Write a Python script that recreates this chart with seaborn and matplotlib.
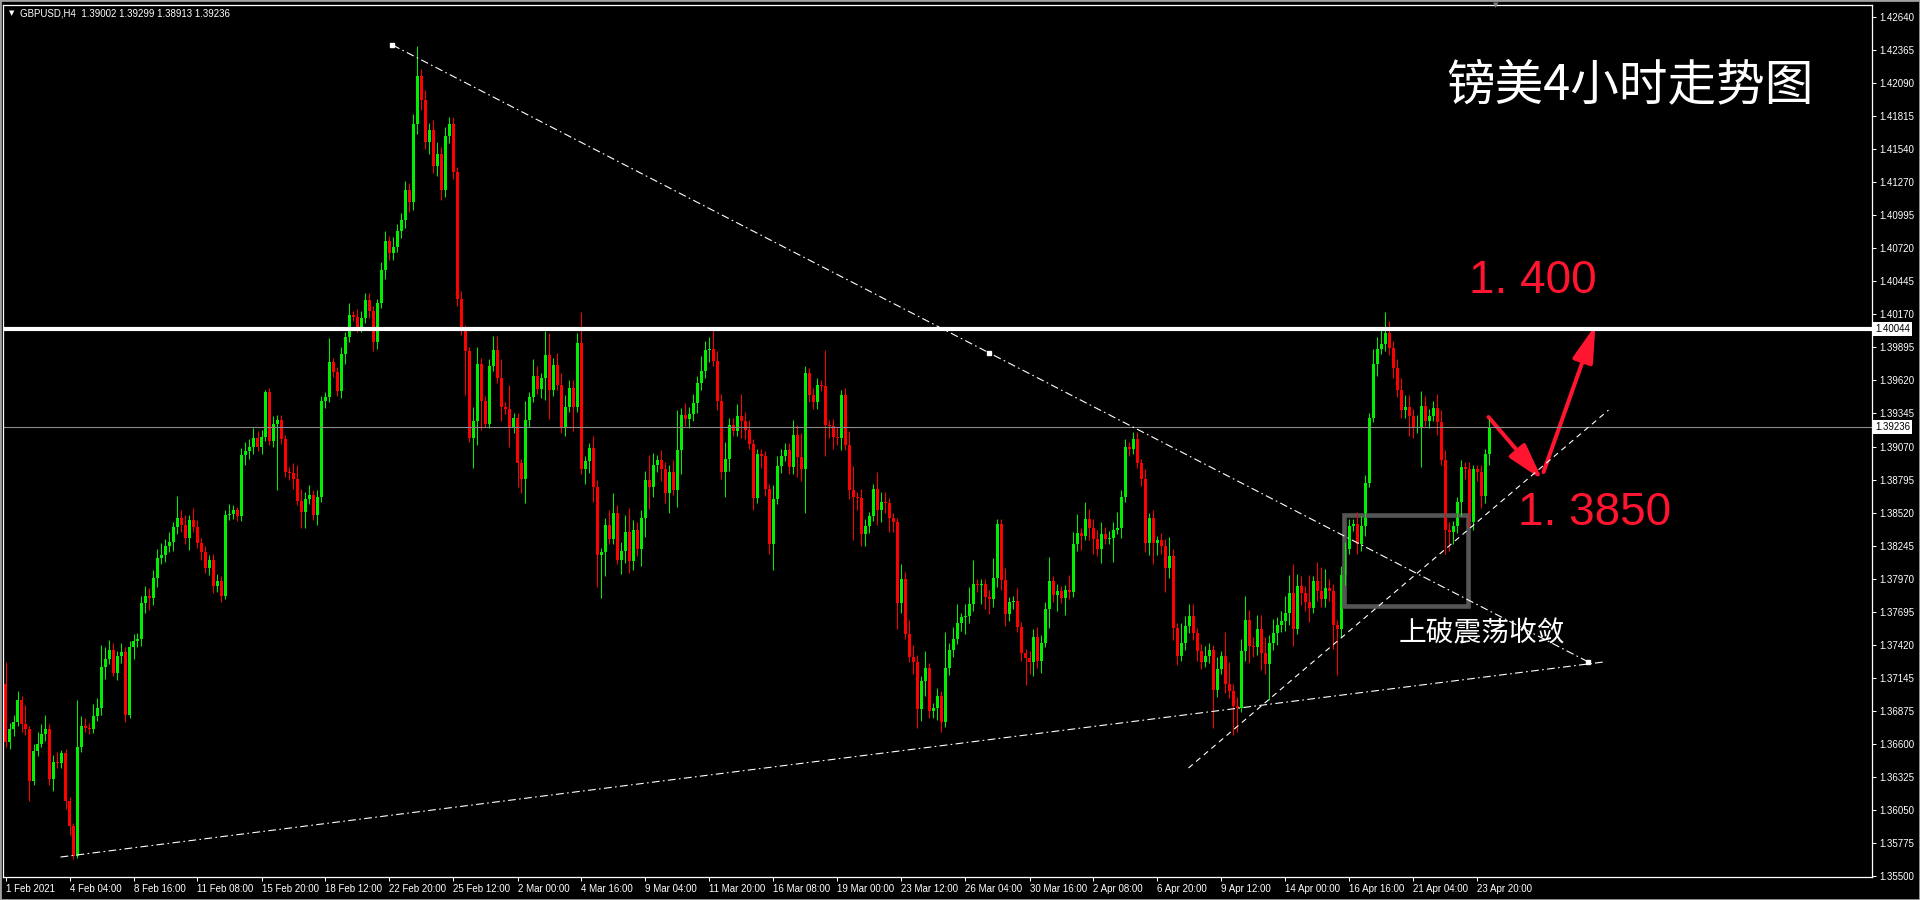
import matplotlib
matplotlib.use("Agg")
import matplotlib.pyplot as plt
from matplotlib.patches import Rectangle, FancyArrowPatch
import numpy as np
import pandas as pd
import seaborn as sns

# ---- data (GBPUSD H4, 1 Feb - 23 Apr 2021) ----
first_open = 1.3710
closes = [
    1.3661, 1.3672, 1.3678, 1.3696, 1.3676, 1.3672, 1.3629, 1.3654, 1.3660, 1.3668,
    1.3672, 1.3631, 1.3645, 1.3644, 1.3652, 1.3612, 1.3592, 1.3567, 1.3657, 1.3675,
    1.3673, 1.3672, 1.3683, 1.3690, 1.3724, 1.3730, 1.3738, 1.3719, 1.3733, 1.3736,
    1.3684, 1.3740, 1.3745, 1.3747, 1.3777, 1.3783, 1.3781, 1.3798, 1.3814, 1.3817,
    1.3824, 1.3828, 1.3840, 1.3848, 1.3842, 1.3831, 1.3846, 1.3840, 1.3827, 1.3819,
    1.3806, 1.3813, 1.3791, 1.3795, 1.3783, 1.3850, 1.3851, 1.3854, 1.3849, 1.3900,
    1.3903, 1.3907, 1.3914, 1.3907, 1.3915, 1.3952, 1.3912, 1.3926, 1.3929, 1.3913,
    1.3886, 1.3885, 1.3880, 1.3862, 1.3853, 1.3863, 1.3867, 1.3850, 1.3865, 1.3945,
    1.3948, 1.3977, 1.3969, 1.3953, 1.3984, 1.3998, 1.4016, 1.4015, 1.4006, 1.4014,
    1.4029, 1.4020, 1.3994, 1.4026, 1.4054, 1.4078, 1.4068, 1.4073, 1.4086, 1.4095,
    1.4120, 1.4110, 1.4175, 1.4215, 1.4195, 1.4160, 1.4170, 1.4140, 1.4150, 1.4120,
    1.4165, 1.4175, 1.4135, 1.4030, 1.4004, 1.3986, 1.3914, 1.3928, 1.3976, 1.3945,
    1.3926, 1.3974, 1.3987, 1.3964, 1.3940, 1.3938, 1.3922, 1.3931, 1.3893, 1.3880,
    1.3929, 1.3948, 1.3966, 1.3955, 1.3964, 1.3983, 1.3954, 1.3975, 1.3958, 1.3922,
    1.3940, 1.3956, 1.3940, 1.3993, 1.3888, 1.3895, 1.3906, 1.3873, 1.3817, 1.3819,
    1.3842, 1.3830, 1.3852, 1.3813, 1.3820, 1.3836, 1.3812, 1.3838, 1.3822, 1.3848,
    1.3879, 1.3873, 1.3892, 1.3896, 1.3888, 1.3868, 1.3886, 1.3871, 1.3904, 1.3933,
    1.3930, 1.3934, 1.3943, 1.3960, 1.3970, 1.3987, 1.3988, 1.3978, 1.3945, 1.3886,
    1.3897, 1.3925, 1.3920, 1.3932, 1.3928, 1.3921, 1.3909, 1.3864, 1.3901, 1.3899,
    1.3872, 1.3826, 1.3863, 1.3891, 1.3899, 1.3904, 1.3890, 1.3917, 1.3898, 1.3888,
    1.3968, 1.3950, 1.3944, 1.3958, 1.3957, 1.3925, 1.3924, 1.3915, 1.3914, 1.3950,
    1.3908, 1.3871, 1.3865, 1.3864, 1.3834, 1.3841, 1.3849, 1.3872, 1.3854, 1.3861,
    1.3860, 1.3848, 1.3844, 1.3777, 1.3797, 1.3751, 1.3732, 1.3728, 1.3689, 1.3712,
    1.3723, 1.3687, 1.3690, 1.3700, 1.3678, 1.3723, 1.3738, 1.3747, 1.3760, 1.3765,
    1.3766, 1.3776, 1.3793, 1.3792, 1.3793, 1.3782, 1.3780, 1.3798, 1.3843, 1.3796,
    1.3768, 1.3778, 1.3779, 1.3757, 1.3735, 1.3731, 1.3728, 1.3749, 1.3729, 1.3744,
    1.3772, 1.3795, 1.3784, 1.3787, 1.3781, 1.3788, 1.3786, 1.3826, 1.3835, 1.3833,
    1.3847, 1.3839, 1.3830, 1.3822, 1.3834, 1.3830, 1.3831, 1.3838, 1.3839, 1.3865,
    1.3907, 1.3905, 1.3913, 1.3893, 1.3880, 1.3827, 1.3848, 1.3827, 1.3829, 1.3824,
    1.3806, 1.3816, 1.3756, 1.3733, 1.3744, 1.3758, 1.3766, 1.3752, 1.3737, 1.3728,
    1.3733, 1.3738, 1.3705, 1.3722, 1.3733, 1.3710, 1.3704, 1.3691, 1.3690, 1.3737,
    1.3763, 1.3741, 1.3740, 1.3755, 1.3735, 1.3726, 1.3744, 1.3752, 1.3759, 1.3762,
    1.3769, 1.3785, 1.3755, 1.3791, 1.3785, 1.3778, 1.3773, 1.3795, 1.3787, 1.3780,
    1.3789, 1.3787, 1.3759, 1.3755, 1.3800, 1.3822, 1.3841, 1.3843, 1.3826, 1.3841,
    1.3877, 1.3931, 1.3976, 1.3988, 1.3992, 1.4001, 1.3989, 1.3972, 1.3954, 1.3937,
    1.3940, 1.3932, 1.3922, 1.3923, 1.3941, 1.3928, 1.3932, 1.3939, 1.3927, 1.3896,
    1.3838, 1.3836, 1.3841, 1.3861, 1.3890, 1.3888, 1.3844, 1.3888, 1.3886, 1.3866,
    1.3901, 1.39236,
]
# wick lengths in pips above / below the candle body
upper_wick = [
    18, 5, 6, 8, 4, 16, 3, 6, 10, 8, 12, 4, 6, 8, 3, 4, 4, 2, 39, 8,
    6, 4, 10, 8, 18, 10, 8, 6, 4, 8, 4, 5, 6, 5, 6, 8, 6, 6, 8, 10,
    6, 8, 4, 18, 6, 8, 4, 10, 6, 4, 5, 4, 5, 6, 4, 4, 8, 4, 3, 6,
    8, 6, 8, 6, 6, 2, 4, 6, 4, 4, 4, 4, 8, 12, 10, 6, 8, 4, 6, 4,
    4, 20, 4, 4, 6, 4, 10, 4, 6, 6, 6, 6, 4, 4, 6, 8, 4, 8, 6, 6,
    8, 6, 8, 25, 6, 8, 6, 8, 10, 6, 8, 6, 6, 4, 6, 4, 4, 12, 14, 5,
    4, 6, 12, 12, 16, 4, 20, 4, 4, 4, 16, 4, 14, 8, 4, 20, 18, 6, 10, 10,
    10, 6, 6, 8, 26, 4, 4, 10, 6, 4, 6, 12, 16, 6, 8, 14, 20, 8, 6, 6,
    8, 21, 10, 4, 8, 6, 6, 10, 33, 6, 10, 6, 8, 6, 12, 8, 10, 17, 8, 6,
    14, 6, 6, 10, 19, 8, 8, 4, 4, 4, 4, 4, 12, 8, 6, 6, 6, 12, 8, 20,
    6, 4, 6, 6, 4, 30, 4, 6, 8, 4, 6, 12, 20, 4, 8, 6, 4, 4, 14, 8,
    8, 4, 4, 4, 12, 6, 12, 10, 6, 4, 14, 4, 4, 6, 4, 30, 6, 10, 16, 4,
    10, 14, 20, 4, 4, 4, 6, 16, 4, 4, 10, 4, 4, 10, 4, 4, 6, 6, 8, 6,
    6, 20, 4, 6, 4, 4, 12, 10, 16, 4, 14, 8, 8, 8, 10, 6, 6, 6, 14, 6,
    6, 4, 6, 6, 4, 8, 4, 6, 4, 6, 6, 16, 6, 4, 16, 8, 10, 10, 4, 6,
    8, 6, 4, 10, 4, 20, 18, 6, 8, 10, 20, 8, 8, 12, 12, 14, 6, 12, 6, 8,
    14, 15, 24, 10, 8, 6, 22, 4, 16, 20, 16, 8, 6, 4, 8, 6, 6, 4, 10, 8,
    6, 4, 12, 10, 12, 18, 10, 6, 8, 10, 10, 10, 6, 10, 12, 8, 6, 6, 12, 10,
    8, 6, 4, 4, 6, 4, 6, 4, 4, 6, 4, 6,
]
lower_wick = [
    4, 5, 6, 3, 6, 5, 17, 3, 4, 3, 6, 5, 10, 4, 4, 6, 8, 3, 2, 4,
    3, 4, 3, 4, 6, 10, 4, 3, 6, 6, 6, 3, 10, 5, 6, 8, 10, 6, 8, 5,
    6, 5, 8, 6, 6, 5, 10, 4, 4, 6, 4, 6, 6, 5, 5, 3, 4, 4, 4, 4,
    8, 6, 6, 4, 6, 3, 4, 5, 55, 4, 4, 6, 8, 4, 14, 14, 4, 4, 8, 4,
    6, 4, 4, 4, 6, 8, 4, 4, 4, 4, 4, 6, 8, 6, 4, 8, 6, 6, 4, 6,
    6, 8, 6, 8, 8, 6, 10, 6, 8, 8, 6, 6, 6, 6, 4, 36, 3, 25, 20, 24,
    3, 4, 4, 4, 12, 4, 15, 4, 20, 12, 20, 6, 4, 4, 8, 18, 24, 5, 4, 4,
    6, 4, 20, 4, 4, 12, 10, 12, 27, 36, 20, 4, 4, 4, 12, 10, 10, 8, 6, 14,
    16, 18, 8, 6, 10, 8, 16, 4, 14, 20, 6, 8, 6, 8, 6, 6, 10, 4, 8, 6,
    21, 10, 4, 4, 14, 8, 4, 10, 4, 10, 6, 8, 22, 4, 6, 4, 6, 6, 16, 10,
    36, 6, 6, 6, 4, 26, 10, 10, 6, 10, 4, 8, 36, 10, 10, 10, 6, 4, 12, 10,
    8, 12, 8, 22, 8, 4, 4, 10, 16, 10, 12, 6, 6, 10, 8, 4, 6, 6, 4, 6,
    14, 6, 6, 6, 16, 10, 12, 6, 8, 8, 10, 6, 6, 4, 6, 22, 10, 12, 6, 10,
    4, 16, 6, 14, 4, 14, 6, 4, 6, 12, 4, 10, 12, 6, 12, 4, 4, 20, 4, 8,
    4, 6, 4, 4, 6, 8, 10, 18, 10, 6, 20, 8, 10, 8, 4, 6, 6, 6, 8, 6,
    4, 6, 32, 6, 4, 8, 6, 24, 20, 4, 8, 14, 8, 6, 14, 8, 30, 6, 10, 6,
    8, 10, 14, 4, 10, 8, 12, 4, 8, 6, 6, 8, 20, 38, 6, 8, 4, 4, 8, 6,
    8, 4, 4, 10, 4, 6, 6, 8, 6, 6, 6, 16, 8, 4, 33, 4, 6, 4, 10, 4,
    20, 16, 10, 6, 12, 8, 4, 6, 8, 10, 6, 9,
]

price_ticks = [1.42640, 1.42365, 1.42090, 1.41815, 1.41540, 1.41270, 1.40995,
               1.40720, 1.40445, 1.40170, 1.39895, 1.39620, 1.39345, 1.39070,
               1.38795, 1.38520, 1.38245, 1.37970, 1.37695, 1.37420, 1.37145,
               1.36875, 1.36600, 1.36325, 1.36050, 1.35775, 1.35500]
date_labels = ["1 Feb 2021", "4 Feb 04:00", "8 Feb 16:00", "11 Feb 08:00",
               "15 Feb 20:00", "18 Feb 12:00", "22 Feb 20:00", "25 Feb 12:00",
               "2 Mar 00:00", "4 Mar 16:00", "9 Mar 04:00", "11 Mar 20:00",
               "16 Mar 08:00", "19 Mar 00:00", "23 Mar 12:00", "26 Mar 04:00",
               "30 Mar 16:00", "2 Apr 08:00", "6 Apr 20:00", "9 Apr 12:00",
               "14 Apr 00:00", "16 Apr 16:00", "21 Apr 04:00", "23 Apr 20:00"]
bars_per_label = 16

level_line = 1.40044
last_price = 1.39236
header = "GBPUSD,H4  1.39002 1.39299 1.38913 1.39236"

# drawn objects, in (bar index, price)
resistance_x, resistance_y = [96.75, 246.0, 395.75], [1.42407, 1.39847, 1.37279]
support_x, support_y = [13.75, 399.5], [1.35658, 1.37279]
rising_x, rising_y = [295.75, 400.75], [1.36398, 1.39373]
box_x, box_y = [334.75, 365.75], [1.37744, 1.38505]
down_arrow_x, down_arrow_y = [370.75, 384.25], [1.39315, 1.38792]
up_arrow_x, up_arrow_y = [384.5, 397.5], [1.38858, 1.40080]

# ---- build candles ----
df = pd.DataFrame({"close": closes, "up": upper_wick, "dn": lower_wick})
df["open"] = df["close"].shift(1).fillna(first_open)
df["top"] = df[["open", "close"]].max(axis=1)
df["bot"] = df[["open", "close"]].min(axis=1)
df["high"] = df["top"] + df["up"] / 1e4
df["low"] = df["bot"] - df["dn"] / 1e4
df["color"] = np.where(df["close"] >= df["open"], "#00f000", "#ff0000")
idx = np.arange(len(df))

sns.set_theme(style="dark", rc={"axes.facecolor": "black", "figure.facecolor": "black",
                                "axes.edgecolor": "white", "grid.color": "black"})
plt.rcParams["font.family"] = ["Liberation Sans", "Noto Sans CJK SC", "DejaVu Sans"]

W, H = 1920, 900
fig = plt.figure(figsize=(19.2, 9), dpi=100, facecolor="black")
ax = fig.add_axes([3 / W, 23 / H, 1869 / W, 872 / H])
ax.set_facecolor("black")
ax.grid(False)

def px(x, y):
    return x / W, 1 - y / H

ax.vlines(idx, df["low"], df["high"], colors=df["color"], linewidth=0.75)
ax.bar(idx, np.maximum(df["top"] - df["bot"], 0.00009), bottom=df["bot"],
       width=0.75, color=df["color"], linewidth=0)

ax.axhline(level_line, color="white", lw=3)
ax.axhline(last_price, color="#8c8c8c", lw=0.8)

ax.plot(resistance_x, resistance_y, color="white", lw=0.8, linestyle=(0, (7, 3, 1.5, 3)))
ax.plot(support_x, support_y, color="white", lw=0.8, linestyle=(0, (7, 3, 1.5, 3)))
ax.plot(rising_x, rising_y, color="white", lw=0.8, linestyle=(0, (5, 4)))
ax.plot(resistance_x, resistance_y, linestyle="none", marker="s", ms=3, color="white")

ax.add_patch(Rectangle((box_x[0], box_y[0]), box_x[1] - box_x[0], box_y[1] - box_y[0],
                       fill=False, edgecolor="#555555", lw=3.3))

red = "#ff1530"
for xs, ys in [(down_arrow_x, down_arrow_y), (up_arrow_x, up_arrow_y)]:
    ax.add_patch(FancyArrowPatch((xs[0], ys[0]), (xs[1], ys[1]),
                                 arrowstyle="-|>,head_length=1.6,head_width=0.45",
                                 mutation_scale=14, color=red, lw=2.9,
                                 shrinkA=0, shrinkB=0))

ax.set_xlim(-0.625, 466.625)
ax.set_ylim(1.35492, 1.42740)

# axes, MT4 style
for s in ax.spines.values():
    s.set_color("white")
    s.set_linewidth(0.9)
ax.set_xticks(np.arange(len(date_labels)) * bars_per_label)
ax.set_xticklabels(date_labels)
for lbl in ax.get_xticklabels():
    lbl.set_ha("left")
ax.tick_params(axis="x", colors="white", length=3, width=0.75, pad=2, labelsize=7,
               bottom=True)
ax.yaxis.tick_right()
ax.set_yticks(price_ticks)
ax.set_yticklabels([f"{v:.5f}" for v in price_ticks])
ax.tick_params(axis="y", colors="white", length=3, width=0.75, pad=2, labelsize=7,
               right=True)

for val in (level_line, last_price):
    ax.text(1.0017, val, f"{val:.5f}", transform=ax.get_yaxis_transform(),
            ha="left", va="center", fontsize=7, color="black", clip_on=False,
            bbox=dict(boxstyle="square,pad=0.2", fc="white", ec="none"))

# texts
fig.text(*px(12, 13), "▼", color="white", fontsize=5, ha="center", va="center",
         family="DejaVu Sans")
fig.text(*px(20, 13), header, color="white", fontsize=7, ha="left", va="center")
fig.text(*px(1496, 5), "▼", color="#808080", fontsize=5, ha="center", va="center",
         family="DejaVu Sans")
fig.text(*px(1630, 86), "镑美4小时走势图", color="white", fontsize=35, ha="center",
         va="center", family=["Noto Sans CJK SC", "DejaVu Sans"])
fig.text(*px(1482, 633), "上破震荡收敛", color="white", fontsize=20, ha="center",
         va="center", family=["Noto Sans CJK SC", "DejaVu Sans"])
fig.text(*px(1533, 281), "1. 400", color=red, fontsize=33, ha="center", va="center")
fig.text(*px(1595, 513), "1. 3850", color=red, fontsize=33, ha="center", va="center")

fig.patches.append(Rectangle((0, 0), 1, 1, transform=fig.transFigure, fill=False,
                             edgecolor="#a0a0a0", lw=2))

fig.savefig("out.png", dpi=100, facecolor="black")
